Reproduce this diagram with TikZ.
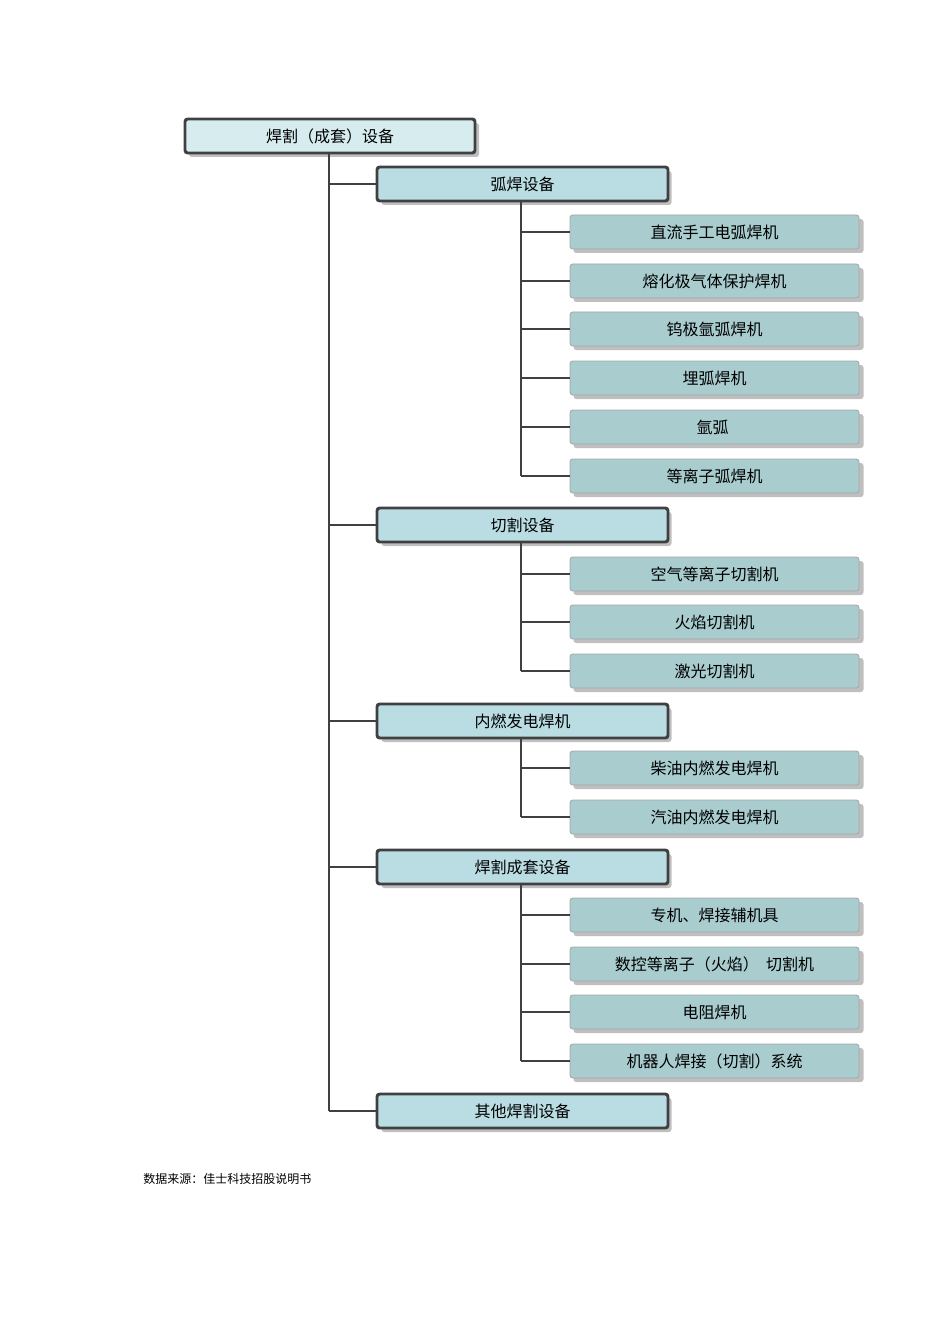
\documentclass[tikz,border=0pt]{standalone}
\usepackage{fontspec}
\setmainfont{Noto Sans CJK SC}
\begin{document}
\begin{tikzpicture}[x=0.75pt,y=-0.75pt,
 topbox/.style={draw=black!75,line width=2.2pt,rounded corners=2pt,fill={rgb,255:red,214;green,236;blue,239},minimum width=290*0.75pt,minimum height=34*0.75pt,inner sep=0pt,font=\fontsize{12}{14}\selectfont},
 midbox/.style={draw=black!75,line width=2.2pt,rounded corners=2pt,fill={rgb,255:red,185;green,221;blue,227},minimum width=291*0.75pt,minimum height=34*0.75pt,inner sep=0pt,font=\fontsize{12}{14}\selectfont},
 leafbox/.style={draw=black!35,line width=0.6pt,rounded corners=2pt,fill={rgb,255:red,169;green,204;blue,207},minimum width=289*0.75pt,minimum height=34*0.75pt,inner sep=0pt,font=\fontsize{12}{14}\selectfont},
 shad/.style={fill=black!25,rounded corners=2pt},
 link/.style={draw=black!75,line width=2.2pt}]
\useasboundingbox (0,0) rectangle (950,1344);
\newcommand{\mybox}[5]{% style, name, cx, cy, text
 \fill[shad] (#3-141,#4-13) rectangle (#3+149,#4+21);
 \node[#1] (#2) at (#3,#4) {#5};}
\mybox{topbox}{root}{330}{136}{焊割（成套）设备}
\coordinate (rb) at (329,153);
\foreach \n/\y/\t in {a/184/弧焊设备,b/525/切割设备,c/721/内燃发电焊机,d/867/焊割成套设备,e/1111/其他焊割设备}{
 \mybox{midbox}{\n}{522.5}{\y}{\t}
 \coordinate (t\n) at (329,\y);
 \draw[link] (t\n) -- (\n.west);
}
\draw[link] (rb) -- (te);
\foreach \p/\pb/\lst in {a/201/{a1/232/直流手工电弧焊机,a2/281/熔化极气体保护焊机,a3/329/钨极氩弧焊机,a4/378/埋弧焊机,a5/427/氩弧\ \ /\ \ 手工\ \ /\ \ 切割三用机,a6/476/等离子弧焊机},
 b/542/{b1/574/空气等离子切割机,b2/622/火焰切割机,b3/671/激光切割机},
 c/738/{c1/768/柴油内燃发电焊机,c2/817/汽油内燃发电焊机},
 d/884/{d1/915/专机、焊接辅机具,d2/964/数控等离子（火焰）\ \ 切割机,d3/1012/电阻焊机,d4/1061/机器人焊接（切割）系统}}{
 \coordinate (\p s) at (521,\pb);
 \foreach \n/\y/\t in \lst {
  \mybox{leafbox}{\n}{714.5}{\y}{\t}
  \coordinate (\n j) at (521,\y);
  \draw[link] (\n j) -- (\n.west);
  \xdef\lastj{\n j}
 }
 \draw[link] (\p s) -- (\lastj);
}
\node[anchor=west,inner sep=0pt,font=\fontsize{9}{11}\selectfont] (src) at (143,1179) {数据来源：佳士科技招股说明书};
\end{tikzpicture}
\end{document}
